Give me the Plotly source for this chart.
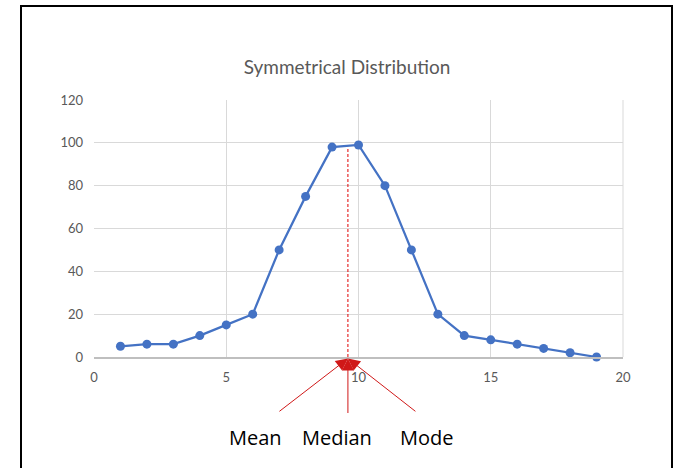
import plotly.graph_objects as go

# Frequency of each value 1..19
x_vals = list(range(1, 20))
freq = [5, 6, 6, 10, 15, 20, 50, 75, 98, 99, 80, 50, 20, 10, 8, 6, 4, 2, 0]

# Centre of the distribution (mean = median = mode) and the marker height
centre_x = 9.6
centre_top = 98

labels = ["Mean", "Median", "Mode"]
label_x = [255, 337, 427]          # label centres, in pixels
tails = [(-70, 54), (0, 56), (69, 54)]  # arrow tail offsets from the centre point, px

W, H = 675, 468
L, R, T, B = 94, 52, 100, 111
pw, ph = W - L - R, H - T - B
X_MAX, Y_MAX = 20, 120

fig = go.Figure()
fig.add_trace(go.Scatter(
    x=x_vals, y=freq, mode="lines+markers",
    line=dict(color="#4472c4", width=2.25),
    marker=dict(color="#4472c4", size=9),
    showlegend=False, cliponaxis=False,
))

# dashed centre line
fig.add_shape(type="line", xref="x", yref="y",
              x0=centre_x, x1=centre_x, y0=0, y1=centre_top,
              line=dict(color="#e00000", width=1, dash="3px,2px"))

# arrows converging on the centre point, just below the axis
for (ax, ay) in tails:
    fig.add_annotation(x=centre_x / X_MAX, y=-1.5 / ph, xref="paper", yref="paper",
                       ax=ax, ay=ay, text="", showarrow=True, arrowhead=2,
                       arrowsize=2.4, arrowwidth=1, arrowcolor="#d01818")

# labels under the arrows
for name, lx in zip(labels, label_x):
    fig.add_annotation(x=(lx - L) / pw, y=(H - B - 437) / ph,
                       xref="paper", yref="paper", text=name, showarrow=False,
                       xanchor="center", yanchor="middle",
                       font=dict(family="Open Sans", size=20, color="#000000"))

# chart frame
fig.add_shape(type="rect", xref="paper", yref="paper",
              x0=(21 - L) / pw, x1=(672 - L) / pw,
              y0=(H - B - 520) / ph, y1=(H - B - 6) / ph,
              line=dict(color="#000000", width=2), layer="above")

fig.update_layout(
    width=W, height=H,
    margin=dict(l=L, r=R, t=T, b=B),
    paper_bgcolor="white", plot_bgcolor="white",
    title=dict(text="Symmetrical Distribution", x=347 / W, xanchor="center",
               y=1 - 67 / H, yanchor="middle", yref="container",
               font=dict(family="Lato", size=19, color="#595959")),
    font=dict(family="Lato", size=13, color="#595959"),
    xaxis=dict(range=[0, X_MAX], tickvals=[0, 5, 10, 15, 20], showgrid=True,
               gridcolor="#d9d9d9", gridwidth=1, zeroline=False,
               showline=True, linecolor="#bfbfbf", linewidth=1.5,
               ticks="", ticklabelstandoff=8, mirror=False),
    yaxis=dict(range=[0, Y_MAX], tickvals=[0, 20, 40, 60, 80, 100, 120],
               showgrid=True, gridcolor="#d9d9d9", gridwidth=1, zeroline=False,
               showline=False, ticks="", ticklabelstandoff=10),
)
# right edge gridline of the plot area
fig.add_shape(type="line", xref="paper", yref="paper", x0=1, x1=1, y0=0, y1=1,
              line=dict(color="#d9d9d9", width=1), layer="below")

fig.write_html("out.html")
